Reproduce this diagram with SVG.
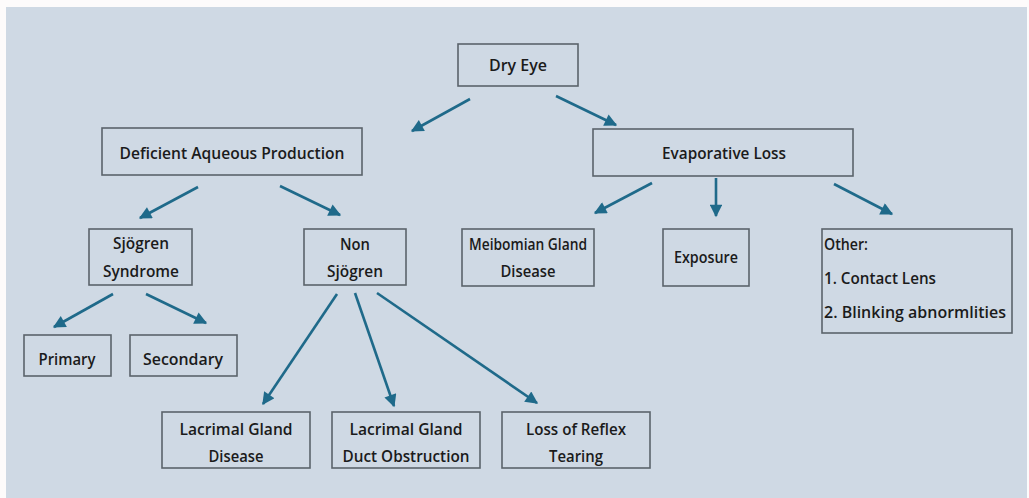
<svg xmlns="http://www.w3.org/2000/svg" width="1029" height="498" viewBox="0 0 1029 498">
<style>
.box{fill:#cfd9e4;stroke:#5b636b;stroke-width:1.6}
.t{font-family:"Open Sans","Liberation Sans",Arial,sans-serif;font-size:16.5px;font-weight:600;fill:#1b1b1b;text-anchor:middle}
.l{text-anchor:start}
.c{stroke:#1f6a8a;stroke-width:2.6;fill:none;marker-end:url(#ah)}
</style>
<defs>
<marker id="ah" viewBox="0 0 10 10" refX="9" refY="5" markerWidth="5.4" markerHeight="4.8" orient="auto" markerUnits="strokeWidth">
<path d="M0,0 L10,5 L0,10 Z" fill="#1f6a8a"/>
</marker>
</defs>
<rect x="0" y="0" width="1029" height="498" fill="#fdfbfb"/>
<rect x="6" y="7" width="1021" height="491" fill="#cfd9e4"/>
<g id="connectors">
<line class="c" x1="470" y1="99" x2="412" y2="131"/>
<line class="c" x1="556" y1="96" x2="616" y2="125"/>
<line class="c" x1="198" y1="187" x2="140" y2="218"/>
<line class="c" x1="280" y1="186" x2="340" y2="215"/>
<line class="c" x1="652" y1="183" x2="595" y2="213"/>
<line class="c" x1="716" y1="178" x2="716" y2="216"/>
<line class="c" x1="834" y1="184" x2="892" y2="214"/>
<line class="c" x1="113" y1="294" x2="54" y2="327"/>
<line class="c" x1="146" y1="294" x2="206" y2="323"/>
<line class="c" x1="337" y1="294" x2="263" y2="404"/>
<line class="c" x1="355" y1="293" x2="394" y2="406"/>
<line class="c" x1="377" y1="293" x2="537" y2="403"/>
</g>
<g id="dry-eye"><rect class="box" x="458" y="44" width="120" height="42"/><text class="t" x="518" y="71" textLength="58" lengthAdjust="spacingAndGlyphs">Dry Eye</text></g>
<g id="deficient"><rect class="box" x="102" y="128" width="260" height="47"/><text class="t" x="232" y="159" textLength="225" lengthAdjust="spacingAndGlyphs">Deficient Aqueous Production</text></g>
<g id="evaporative"><rect class="box" x="593" y="129" width="260" height="47"/><text class="t" x="724" y="159" textLength="124" lengthAdjust="spacingAndGlyphs">Evaporative Loss</text></g>
<g id="sjogren"><rect class="box" x="89" y="229" width="103" height="56"/><text class="t" x="141" y="249" textLength="56" lengthAdjust="spacingAndGlyphs">Sjögren</text><text class="t" x="141" y="277" textLength="76" lengthAdjust="spacingAndGlyphs">Syndrome</text></g>
<g id="non-sjogren"><rect class="box" x="304" y="229" width="102" height="56"/><text class="t" x="355" y="250" textLength="30" lengthAdjust="spacingAndGlyphs">Non</text><text class="t" x="355" y="277" textLength="56" lengthAdjust="spacingAndGlyphs">Sjögren</text></g>
<g id="meibomian"><rect class="box" x="462" y="229" width="132" height="57"/><text class="t" x="528" y="250" textLength="118" lengthAdjust="spacingAndGlyphs">Meibomian Gland</text><text class="t" x="528" y="277" textLength="55" lengthAdjust="spacingAndGlyphs">Disease</text></g>
<g id="exposure"><rect class="box" x="663" y="229" width="86" height="57"/><text class="t" x="706" y="263" textLength="64" lengthAdjust="spacingAndGlyphs">Exposure</text></g>
<g id="other"><rect class="box" x="822" y="229" width="190" height="104"/><text class="t l" x="824" y="250" textLength="44" lengthAdjust="spacingAndGlyphs">Other:</text><text class="t l" x="824" y="284" textLength="112" lengthAdjust="spacingAndGlyphs">1. Contact Lens</text><text class="t l" x="824" y="318" textLength="182" lengthAdjust="spacingAndGlyphs">2. Blinking abnormlities</text></g>
<g id="primary"><rect class="box" x="24" y="335" width="87" height="41"/><text class="t" x="67" y="365" textLength="57" lengthAdjust="spacingAndGlyphs">Primary</text></g>
<g id="secondary"><rect class="box" x="130" y="335" width="107" height="41"/><text class="t" x="183" y="365" textLength="80" lengthAdjust="spacingAndGlyphs">Secondary</text></g>
<g id="lacrimal-disease"><rect class="box" x="162" y="412" width="148" height="56"/><text class="t" x="236" y="435" textLength="113" lengthAdjust="spacingAndGlyphs">Lacrimal Gland</text><text class="t" x="236" y="462" textLength="55" lengthAdjust="spacingAndGlyphs">Disease</text></g>
<g id="lacrimal-duct"><rect class="box" x="332" y="412" width="148" height="56"/><text class="t" x="406" y="435" textLength="113" lengthAdjust="spacingAndGlyphs">Lacrimal Gland</text><text class="t" x="406" y="462" textLength="127" lengthAdjust="spacingAndGlyphs">Duct Obstruction</text></g>
<g id="reflex"><rect class="box" x="502" y="412" width="148" height="56"/><text class="t" x="576" y="435" textLength="100" lengthAdjust="spacingAndGlyphs">Loss of Reflex</text><text class="t" x="576" y="462" textLength="54" lengthAdjust="spacingAndGlyphs">Tearing</text></g>
</svg>
